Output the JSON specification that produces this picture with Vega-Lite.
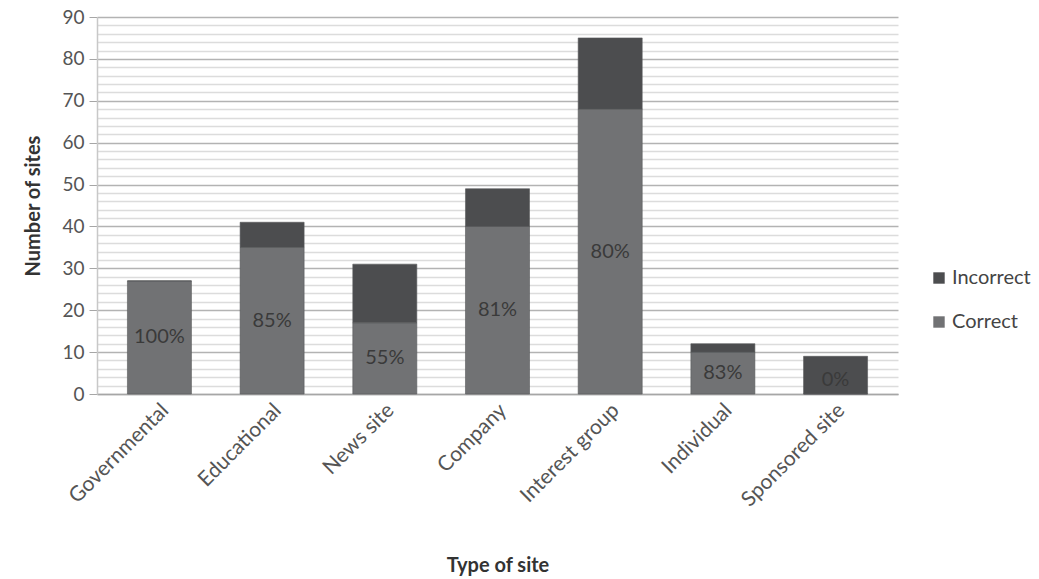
{
  "$schema": "https://vega.github.io/schema/vega-lite/v6.json",
  "width": 801,
  "height": 377,
  "autosize": {"type": "none"},
  "padding": {"left": 97, "top": 17, "right": 141, "bottom": 185},
  "background": "white",
  "config": {
    "font": "Lato",
    "view": {"stroke": null},
    "axis": {"labelFont": "Lato", "titleFont": "Lato"}
  },
  "data": {
    "values": [
      {"site": "Governmental", "Correct": 27, "Incorrect": 0, "pct": "100%"},
      {"site": "Educational", "Correct": 35, "Incorrect": 6, "pct": "85%"},
      {"site": "News site", "Correct": 17, "Incorrect": 14, "pct": "55%"},
      {"site": "Company", "Correct": 40, "Incorrect": 9, "pct": "81%"},
      {"site": "Interest group", "Correct": 68, "Incorrect": 17, "pct": "80%"},
      {"site": "Individual", "Correct": 10, "Incorrect": 2, "pct": "83%"},
      {"site": "Sponsored site", "Correct": 0, "Incorrect": 9, "pct": "0%"}
    ]
  },
  "transform": [
    {"fold": ["Correct", "Incorrect"], "as": ["status", "count"]}
  ],
  "encoding": {
    "x": {
      "field": "site",
      "type": "nominal",
      "sort": null,
      "scale": {"paddingInner": 0.432, "paddingOuter": 0.27},
      "axis": {
        "title": "Type of site",
        "titleFontSize": 20,
        "titleFontWeight": "bold",
        "titleColor": "#333333",
        "titleY": 171,
        "titleBaseline": "middle",
        "labelAngle": -45,
        "labelAlign": "right",
        "labelBaseline": "middle",
        "labelFontSize": 21,
        "labelColor": "#555555",
        "labelPadding": 13,
        "labelOffset": 6,
        "labelOverlap": false,
        "ticks": false,
        "domainColor": "#a6a6a6",
        "domainWidth": 1.5
      }
    }
  },
  "layer": [
    {
      "mark": {"type": "bar", "stroke": "#58595b", "strokeWidth": 0.6},
      "encoding": {
        "y": {
          "field": "count",
          "type": "quantitative",
          "stack": "zero",
          "scale": {"domain": [0, 90], "nice": false},
          "axis": {
            "title": "Number of sites",
            "titleFontSize": 20,
            "titleFontWeight": "bold",
            "titleColor": "#333333",
            "titleX": -64,
            "titleBaseline": "middle",
            "values": [0,2,4,6,8,10,12,14,16,18,20,22,24,26,28,30,32,34,36,38,40,42,44,46,48,50,52,54,56,58,60,62,64,66,68,70,72,74,76,78,80,82,84,86,88,90],
            "tickCount": 100,
            "labelOverlap": false,
            "labelExpr": "datum.value % 10 === 0 ? datum.label : ''",
            "labelFontSize": 19,
            "labelColor": "#555555",
            "labelPadding": 5,
            "tickSize": 8,
            "tickColor": "#a6a6a6",
            "tickOpacity": {"condition": {"test": "datum.value % 10 === 0", "value": 1}, "value": 0},
            "grid": true,
            "gridColor": {"condition": {"test": "datum.value % 10 === 0", "value": "#b3b3b3"}, "value": "#dcdcdc"},
            "gridWidth": 1.5,
            "domainColor": "#c8c8c8",
            "domainWidth": 1.5
          }
        },
        "color": {
          "field": "status",
          "type": "nominal",
          "scale": {"domain": ["Incorrect", "Correct"], "range": ["#4c4d4f", "#717274"]},
          "legend": {
            "title": null,
            "orient": "none",
            "legendX": 832,
            "legendY": 251,
            "symbolType": "square",
            "symbolSize": 130,
            "symbolStrokeWidth": 0,
            "labelFontSize": 20,
            "labelColor": "#444444",
            "labelOffset": 3,
            "rowPadding": 24
          }
        },
        "order": {"field": "status", "sort": "ascending"}
      }
    },
    {
      "transform": [
        {"filter": "datum.status === 'Correct'"},
        {"calculate": "max(datum.count / 2, 3.3)", "as": "mid"}
      ],
      "mark": {"type": "text", "fontSize": 20, "color": "#3a3a3a", "baseline": "middle", "align": "center"},
      "encoding": {
        "y": {"field": "mid", "type": "quantitative"},
        "text": {"field": "pct"}
      }
    }
  ]
}
